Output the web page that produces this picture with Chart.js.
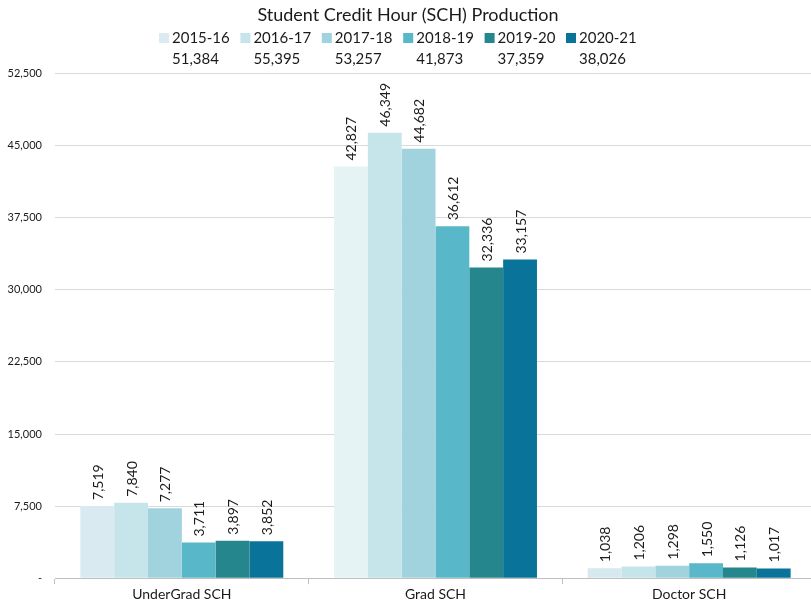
<!DOCTYPE html>
<html>
<head>
<meta charset="utf-8">
<script src="https://cdn.jsdelivr.net/npm/chart.js@4/dist/chart.umd.min.js"></script>
<style>
  html, body { margin: 0; padding: 0; background: #fff; overflow: hidden; }
  #wrap { width: 816px; height: 605px; }
</style>
</head>
<body>
<div id="wrap"><canvas id="schChart" width="816" height="605"></canvas></div>
<script>
// Chart data
const categories = ["UnderGrad SCH", "Grad SCH", "Doctor SCH"];
const years = ["2015-16", "2016-17", "2017-18", "2018-19", "2019-20", "2020-21"];
const sch201516 = [7519, 42827, 1038];
const sch201617 = [7840, 46349, 1206];
const sch201718 = [7277, 44682, 1298];
const sch201819 = [3711, 36612, 1550];
const sch201920 = [3897, 32336, 1126];
const sch202021 = [3852, 33157, 1017];
const yTicks = [0, 7500, 15000, 22500, 30000, 37500, 45000, 52500];

const seriesValues = [sch201516, sch201617, sch201718, sch201819, sch201920, sch202021];
const yearColors = ["#dcebf1", "#c6e5eb", "#a1d3de", "#58b7c8", "#26868e", "#0a7399"];
const FONT = "Lato, 'Open Sans', sans-serif";

function fmt(v) {
  return v.toLocaleString("en-US");
}

// rotated value labels above each bar
const barLabels = {
  id: "barLabels",
  afterDatasetsDraw(chart) {
    const ctx = chart.ctx;
    ctx.save();
    ctx.font = "14px " + FONT;
    ctx.fillStyle = "#1a1a1a";
    ctx.textAlign = "left";
    ctx.textBaseline = "middle";
    chart.data.datasets.forEach((ds, i) => {
      chart.getDatasetMeta(i).data.forEach((bar, j) => {
        ctx.save();
        ctx.translate(bar.x, bar.y - 6);
        ctx.rotate(-Math.PI / 2);
        ctx.fillText(fmt(ds.data[j]), 0, 1);
        ctx.restore();
      });
    });
    ctx.restore();
  },
};

// legend with yearly totals underneath
const totalsLegend = {
  id: "totalsLegend",
  afterDraw(chart) {
    const ctx = chart.ctx;
    const startX = 159;
    const step = 81.4;
    ctx.save();
    ctx.font = "15px " + FONT;
    ctx.textBaseline = "middle";
    ctx.textAlign = "left";
    years.forEach((yr, i) => {
      const x = startX + i * step;
      const total = seriesValues[i].reduce((a, b) => a + b, 0);
      ctx.fillStyle = yearColors[i];
      ctx.fillRect(x, 33, 10, 10);
      ctx.fillStyle = "#1a1a1a";
      ctx.fillText(yr, x + 13, 38);
      ctx.fillText(fmt(total), x + 13, 59);
    });
    ctx.restore();
  },
};

new Chart(document.getElementById("schChart"), {
  type: "bar",
  data: {
    labels: categories,
    datasets: years.map((yr, i) => ({
      label: yr,
      data: seriesValues[i],
      backgroundColor: i === 0 ? ["#d9eaf0", "#e6f3f5", "#d6e9ef"] : yearColors[i],
      borderWidth: 0,
      categoryPercentage: 0.8,
      barPercentage: 1.0,
    })),
  },
  options: {
    responsive: false,
    animation: false,
    layout: { padding: { left: 0, right: 0, top: 0, bottom: 0 } },
    plugins: {
      legend: { display: false },
      tooltip: { enabled: false },
      title: {
        display: true,
        text: "Student Credit Hour (SCH) Production",
        color: "#1a1a1a",
        font: { family: FONT, size: 18, weight: "normal" },
        padding: { top: 4, bottom: 48 },
      },
    },
    scales: {
      x: {
        grid: {
          drawOnChartArea: false,
          drawTicks: true,
          tickLength: 6,
          color: "#bfbfbf",
          offset: true,
        },
        border: { color: "#bfbfbf" },
        ticks: {
          color: "#1a1a1a",
          font: { family: FONT, size: 14 },
          padding: 2,
        },
      },
      y: {
        min: 0,
        max: 52500,
        afterBuildTicks(axis) {
          axis.ticks = yTicks.map((v) => ({ value: v }));
        },
        afterFit(axis) {
          axis.width = 55;
        },
        grid: { color: "#d9d9d9", drawTicks: false },
        border: { display: false },
        ticks: {
          color: "#1a1a1a",
          font: { family: FONT, size: 11 },
          padding: 13,
          callback: (v) => (v === 0 ? "-" : fmt(v)),
        },
      },
    },
  },
  plugins: [barLabels, totalsLegend],
});
</script>
</body>
</html>
